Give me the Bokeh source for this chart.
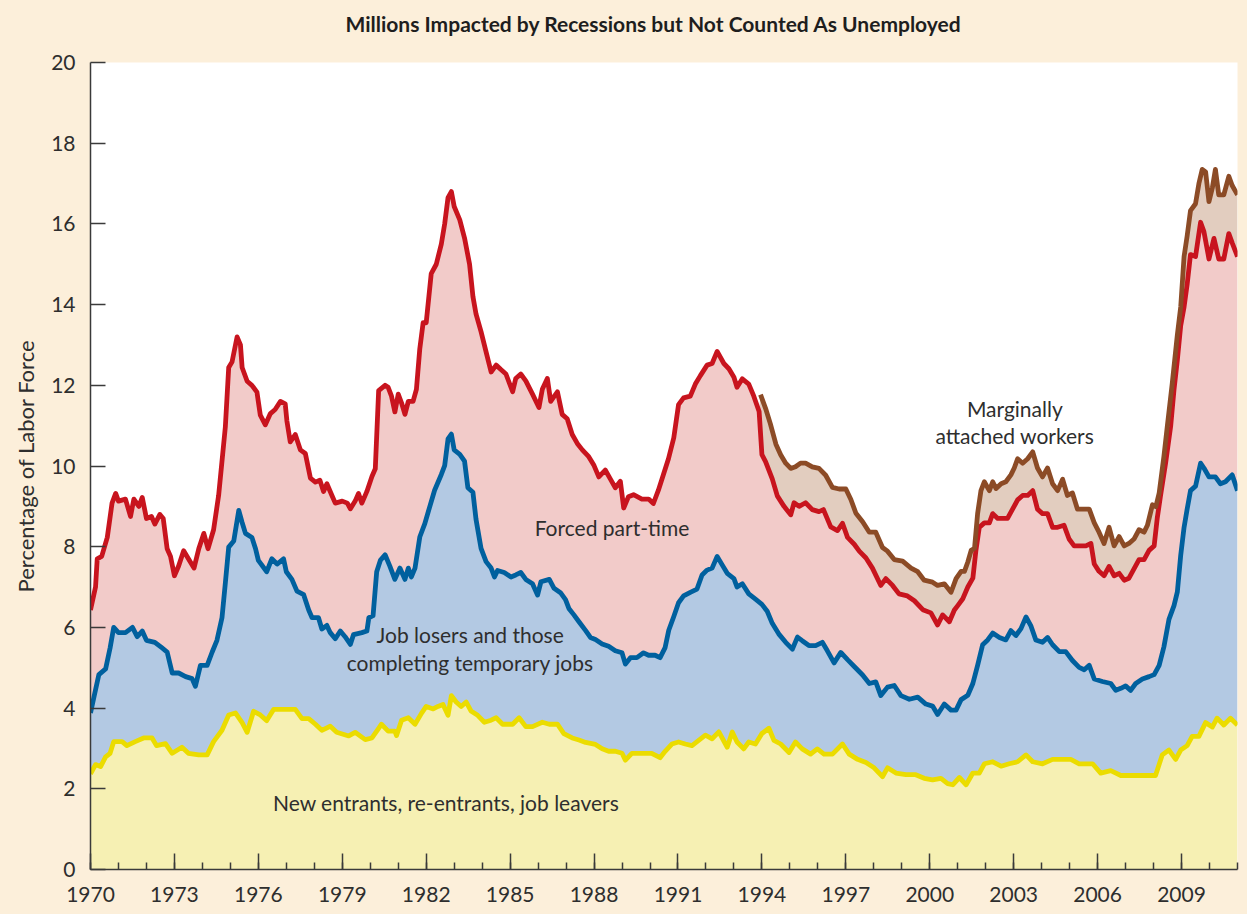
from bokeh.plotting import figure
from bokeh.models import Range1d, FixedTicker
from bokeh.embed import file_html
from bokeh.resources import INLINE
from bokeh.core.properties import value

# ---------------- data (percent of labor force, cumulative stacked levels) ----------------
yellow_year = [1970.0, 1970.18, 1970.36, 1970.54, 1970.7, 1970.83, 1971.13, 1971.3, 1971.6, 1971.9,
               1972.2, 1972.36, 1972.68, 1972.92, 1973.27, 1973.5, 1973.87, 1974.17, 1974.4, 1974.7,
               1974.94, 1975.18, 1975.42, 1975.6, 1975.83, 1976.07, 1976.3, 1976.55, 1976.96, 1977.32,
               1977.56, 1977.8, 1978.04, 1978.27, 1978.57, 1978.8, 1979.23, 1979.46, 1979.82, 1980.06,
               1980.3, 1980.4, 1980.64, 1980.88, 1980.94, 1981.12, 1981.36, 1981.6, 1981.83, 1982.0,
               1982.25, 1982.42, 1982.6, 1982.78, 1982.9, 1983.07, 1983.25, 1983.43, 1983.6, 1983.84,
               1984.08, 1984.32, 1984.5, 1984.73, 1985.09, 1985.32, 1985.56, 1985.8, 1986.15, 1986.4,
               1986.69, 1986.92, 1987.22, 1987.46, 1987.7, 1988.05, 1988.29, 1988.52, 1988.76, 1989.0,
               1989.12, 1989.35, 1989.71, 1990.06, 1990.36, 1990.54, 1990.78, 1991.02, 1991.26, 1991.5,
               1991.74, 1991.98, 1992.22, 1992.46, 1992.76, 1992.94, 1993.11, 1993.35, 1993.53, 1993.77,
               1994.0, 1994.25, 1994.43, 1994.67, 1994.97, 1995.2, 1995.44, 1995.74, 1995.98, 1996.22,
               1996.52, 1996.88, 1997.12, 1997.42, 1997.72, 1998.01, 1998.31, 1998.49, 1998.79, 1999.15,
               1999.5, 1999.8, 2000.1, 2000.4, 2000.64, 2000.82, 2001.06, 2001.3, 2001.54, 2001.77,
               2001.95, 2002.25, 2002.55, 2002.84, 2003.14, 2003.44, 2003.68, 2004.03, 2004.39, 2004.69,
               2005.04, 2005.34, 2005.82, 2006.11, 2006.47, 2006.83, 2007.24, 2007.72, 2008.07, 2008.31,
               2008.55, 2008.79, 2008.97, 2009.2, 2009.38, 2009.62, 2009.86, 2010.1, 2010.27, 2010.51,
               2010.75, 2011.0]
yellow_val = [2.37, 2.6, 2.55, 2.79, 2.88, 3.17, 3.17, 3.07, 3.17, 3.26,
              3.26, 3.07, 3.12, 2.88, 3.03, 2.88, 2.84, 2.84, 3.17, 3.45,
              3.83, 3.88, 3.64, 3.4, 3.92, 3.83, 3.69, 3.97, 3.97, 3.97,
              3.74, 3.74, 3.6, 3.45, 3.55, 3.4, 3.31, 3.4, 3.22, 3.26,
              3.5, 3.6, 3.43, 3.43, 3.32, 3.7, 3.76, 3.6, 3.87, 4.04,
              3.98, 4.04, 4.09, 3.82, 4.31, 4.15, 4.04, 4.15, 3.93, 3.82,
              3.65, 3.7, 3.76, 3.6, 3.6, 3.76, 3.54, 3.54, 3.65, 3.6,
              3.6, 3.37, 3.26, 3.21, 3.15, 3.1, 2.99, 2.93, 2.93, 2.88,
              2.71, 2.88, 2.88, 2.88, 2.77, 2.93, 3.11, 3.16, 3.11, 3.07,
              3.2, 3.33, 3.24, 3.41, 3.03, 3.41, 3.16, 2.99, 3.16, 3.11,
              3.37, 3.5, 3.2, 3.11, 2.9, 3.16, 2.99, 2.86, 2.99, 2.86,
              2.86, 3.11, 2.86, 2.73, 2.65, 2.52, 2.3, 2.52, 2.39, 2.35,
              2.35, 2.26, 2.22, 2.26, 2.13, 2.1, 2.28, 2.1, 2.39, 2.39,
              2.62, 2.67, 2.56, 2.62, 2.67, 2.84, 2.67, 2.62, 2.73, 2.73,
              2.73, 2.62, 2.62, 2.39, 2.45, 2.33, 2.33, 2.33, 2.33, 2.84,
              2.96, 2.73, 2.96, 3.07, 3.3, 3.3, 3.64, 3.53, 3.75, 3.58,
              3.75, 3.58]

blue_year = [1970.0, 1970.12, 1970.3, 1970.54, 1970.7, 1970.83, 1971.0, 1971.25, 1971.5, 1971.67,
             1971.85, 1972.0, 1972.3, 1972.56, 1972.74, 1972.92, 1973.15, 1973.4, 1973.63, 1973.75,
             1973.93, 1974.17, 1974.35, 1974.52, 1974.7, 1974.82, 1974.94, 1975.12, 1975.3, 1975.42,
             1975.54, 1975.77, 1975.9, 1976.0, 1976.3, 1976.48, 1976.67, 1976.9, 1977.0, 1977.2,
             1977.38, 1977.62, 1977.8, 1977.92, 1978.15, 1978.27, 1978.45, 1978.57, 1978.75, 1978.93,
             1979.1, 1979.29, 1979.4, 1979.7, 1979.88, 1979.95, 1980.1, 1980.23, 1980.36, 1980.53,
             1980.7, 1980.88, 1981.06, 1981.24, 1981.36, 1981.47, 1981.6, 1981.77, 1981.95, 1982.13,
             1982.3, 1982.54, 1982.66, 1982.78, 1982.9, 1983.0, 1983.2, 1983.37, 1983.49, 1983.67,
             1983.78, 1983.96, 1984.14, 1984.32, 1984.44, 1984.55, 1984.79, 1985.03, 1985.2, 1985.38,
             1985.56, 1985.8, 1985.98, 1986.1, 1986.4, 1986.57, 1986.8, 1986.98, 1987.1, 1987.28,
             1987.46, 1987.7, 1987.87, 1988.05, 1988.29, 1988.52, 1988.76, 1989.0, 1989.12, 1989.3,
             1989.53, 1989.77, 1989.95, 1990.18, 1990.36, 1990.54, 1990.67, 1990.85, 1991.02, 1991.2,
             1991.44, 1991.68, 1991.86, 1992.04, 1992.22, 1992.4, 1992.58, 1992.76, 1993.0, 1993.11,
             1993.3, 1993.53, 1993.77, 1994.0, 1994.19, 1994.37, 1994.6, 1994.85, 1995.09, 1995.27,
             1995.44, 1995.68, 1995.92, 1996.16, 1996.34, 1996.58, 1996.82, 1997.06, 1997.3, 1997.6,
             1997.84, 1998.07, 1998.25, 1998.49, 1998.73, 1998.97, 1999.27, 1999.57, 1999.86, 2000.1,
             2000.28, 2000.52, 2000.76, 2000.94, 2001.12, 2001.36, 2001.54, 2001.71, 2001.89, 2002.07,
             2002.25, 2002.49, 2002.72, 2002.9, 2003.08, 2003.26, 2003.44, 2003.62, 2003.79, 2004.03,
             2004.21, 2004.39, 2004.63, 2004.86, 2005.1, 2005.34, 2005.52, 2005.7, 2005.88, 2006.17,
             2006.47, 2006.65, 2006.83, 2007.0, 2007.18, 2007.36, 2007.6, 2007.84, 2008.02, 2008.2,
             2008.37, 2008.55, 2008.73, 2008.85, 2008.97, 2009.09, 2009.2, 2009.32, 2009.5, 2009.68,
             2009.8, 2009.98, 2010.21, 2010.39, 2010.57, 2010.81, 2011.0]
blue_val = [3.88, 4.26, 4.83, 4.97, 5.49, 6.0, 5.87, 5.87, 6.0, 5.77,
            5.91, 5.68, 5.63, 5.49, 5.39, 4.87, 4.87, 4.78, 4.73, 4.54,
            5.06, 5.06, 5.39, 5.68, 6.24, 7.1, 7.99, 8.14, 8.9, 8.6,
            8.33, 8.23, 7.95, 7.66, 7.38, 7.7, 7.57, 7.7, 7.38, 7.19,
            6.9, 6.81, 6.43, 6.24, 6.24, 5.96, 6.05, 5.87, 5.72, 5.91,
            5.77, 5.58, 5.82, 5.87, 5.91, 6.24, 6.29, 7.38, 7.66, 7.8,
            7.52, 7.19, 7.47, 7.19, 7.47, 7.25, 7.47, 8.24, 8.57, 9.0,
            9.4, 9.79, 10.01, 10.67, 10.79, 10.4, 10.29, 10.12, 9.46, 9.35,
            8.68, 7.96, 7.63, 7.47, 7.25, 7.41, 7.36, 7.25, 7.3, 7.36,
            7.19, 7.08, 6.8, 7.13, 7.19, 6.97, 6.86, 6.69, 6.47, 6.31,
            6.14, 5.92, 5.75, 5.7, 5.59, 5.53, 5.42, 5.37, 5.09, 5.25,
            5.25, 5.37, 5.31, 5.31, 5.25, 5.5, 5.93, 6.27, 6.61, 6.78,
            6.87, 6.95, 7.3, 7.42, 7.47, 7.76, 7.55, 7.34, 7.21, 7.0,
            7.08, 6.83, 6.7, 6.57, 6.4, 6.1, 5.84, 5.63, 5.46, 5.76,
            5.67, 5.55, 5.55, 5.63, 5.42, 5.12, 5.38, 5.2, 5.03, 4.82,
            4.61, 4.65, 4.31, 4.52, 4.56, 4.31, 4.22, 4.27, 4.1, 4.05,
            3.84, 4.1, 3.95, 3.95, 4.21, 4.32, 4.61, 5.06, 5.57, 5.69,
            5.86, 5.75, 5.69, 5.92, 5.8, 5.97, 6.26, 6.03, 5.69, 5.63,
            5.75, 5.57, 5.4, 5.4, 5.18, 5.01, 4.95, 5.06, 4.72, 4.66,
            4.61, 4.44, 4.49, 4.55, 4.44, 4.61, 4.72, 4.78, 4.83, 5.06,
            5.52, 6.2, 6.54, 6.88, 7.79, 8.48, 8.93, 9.39, 9.5, 10.07,
            9.95, 9.73, 9.73, 9.56, 9.61, 9.78, 9.39]

red_year = [1970.0, 1970.18, 1970.24, 1970.4, 1970.6, 1970.77, 1970.9, 1971.0, 1971.25, 1971.43,
            1971.55, 1971.73, 1971.85, 1972.0, 1972.18, 1972.3, 1972.48, 1972.6, 1972.74, 1972.86,
            1973.0, 1973.15, 1973.33, 1973.5, 1973.7, 1973.87, 1974.05, 1974.2, 1974.4, 1974.58,
            1974.7, 1974.82, 1974.94, 1975.06, 1975.24, 1975.36, 1975.42, 1975.6, 1975.77, 1975.95,
            1976.07, 1976.25, 1976.43, 1976.6, 1976.79, 1976.96, 1977.02, 1977.14, 1977.32, 1977.5,
            1977.68, 1977.86, 1978.04, 1978.2, 1978.33, 1978.45, 1978.63, 1978.75, 1979.0, 1979.18,
            1979.29, 1979.46, 1979.58, 1979.7, 1979.88, 1980.06, 1980.18, 1980.3, 1980.53, 1980.64,
            1980.76, 1980.88, 1981.0, 1981.12, 1981.24, 1981.36, 1981.53, 1981.65, 1981.77, 1981.89,
            1982.0, 1982.18, 1982.36, 1982.54, 1982.66, 1982.78, 1982.9, 1983.0, 1983.2, 1983.37,
            1983.55, 1983.67, 1983.78, 1983.96, 1984.14, 1984.32, 1984.5, 1984.67, 1984.85, 1985.09,
            1985.2, 1985.38, 1985.56, 1985.8, 1986.03, 1986.15, 1986.33, 1986.45, 1986.69, 1986.86,
            1987.04, 1987.22, 1987.4, 1987.58, 1987.81, 1988.0, 1988.17, 1988.4, 1988.58, 1988.76,
            1988.94, 1989.06, 1989.23, 1989.41, 1989.71, 1989.95, 1990.12, 1990.3, 1990.48, 1990.66,
            1990.85, 1991.02, 1991.2, 1991.44, 1991.62, 1991.8, 1992.04, 1992.22, 1992.4, 1992.64,
            1992.82, 1993.0, 1993.11, 1993.3, 1993.53, 1993.71, 1993.9, 1994.0, 1994.13, 1994.37,
            1994.55, 1994.79, 1995.03, 1995.15, 1995.33, 1995.56, 1995.8, 1996.04, 1996.2, 1996.46,
            1996.7, 1996.88, 1997.06, 1997.3, 1997.48, 1997.72, 1997.95, 1998.25, 1998.43, 1998.67,
            1998.9, 1999.2, 1999.45, 1999.75, 2000.04, 2000.28, 2000.46, 2000.7, 2000.88, 2001.0,
            2001.18, 2001.36, 2001.54, 2001.65, 2001.77, 2001.95, 2002.13, 2002.25, 2002.43, 2002.6,
            2002.78, 2002.96, 2003.14, 2003.32, 2003.5, 2003.68, 2003.85, 2004.03, 2004.21, 2004.39,
            2004.57, 2004.8, 2004.98, 2005.16, 2005.34, 2005.58, 2005.76, 2005.88, 2006.05, 2006.23,
            2006.41, 2006.59, 2006.77, 2006.95, 2007.12, 2007.3, 2007.48, 2007.66, 2007.84, 2008.02,
            2008.13, 2008.25, 2008.43, 2008.61, 2008.73, 2008.85, 2008.97, 2009.09, 2009.2, 2009.32,
            2009.5, 2009.68, 2009.8, 2009.98, 2010.16, 2010.33, 2010.51, 2010.69, 2010.81, 2011.0]
red_val = [6.43, 7.0, 7.7, 7.76, 8.23, 9.08, 9.32, 9.13, 9.18, 8.75,
           9.18, 9.0, 9.22, 8.7, 8.75, 8.56, 8.8, 8.7, 7.95, 7.76,
           7.28, 7.52, 7.9, 7.7, 7.47, 7.95, 8.33, 7.95, 8.42, 9.27,
           10.12, 10.97, 12.44, 12.58, 13.2, 13.0, 12.44, 12.1, 12.0, 11.83,
           11.26, 11.02, 11.3, 11.4, 11.6, 11.54, 11.12, 10.6, 10.78, 10.4,
           10.31, 9.7, 9.6, 9.65, 9.37, 9.56, 9.27, 9.08, 9.13, 9.08,
           8.94, 9.13, 9.32, 9.08, 9.37, 9.74, 9.93, 11.87, 12.0, 11.95,
           11.73, 11.34, 11.78, 11.56, 11.28, 11.6, 11.6, 11.9, 12.9, 13.55,
           13.55, 14.77, 15.0, 15.5, 16.0, 16.65, 16.8, 16.43, 16.1, 15.65,
           15.0, 14.2, 13.77, 13.33, 12.83, 12.33, 12.5, 12.39, 12.28, 11.84,
           12.17, 12.28, 12.11, 11.78, 11.45, 11.9, 12.17, 11.6, 11.84, 11.28,
           11.17, 10.78, 10.56, 10.4, 10.23, 10.01, 9.73, 9.9, 9.68, 9.46,
           9.62, 8.96, 9.24, 9.29, 9.18, 9.18, 9.07, 9.4, 9.79, 10.18,
           10.7, 11.52, 11.69, 11.73, 12.03, 12.24, 12.5, 12.54, 12.84, 12.54,
           12.41, 12.2, 11.95, 12.16, 12.03, 11.73, 11.35, 10.28, 10.11, 9.68,
           9.26, 9.0, 8.79, 9.09, 9.0, 9.09, 8.92, 8.87, 8.92, 8.49,
           8.4, 8.58, 8.23, 8.06, 7.89, 7.72, 7.47, 7.04, 7.21, 7.04,
           6.83, 6.78, 6.66, 6.44, 6.36, 6.06, 6.31, 6.14, 6.43, 6.54,
           6.71, 7.0, 7.22, 7.91, 8.48, 8.59, 8.59, 8.82, 8.7, 8.7,
           8.7, 8.93, 9.16, 9.27, 9.27, 9.39, 8.93, 8.82, 8.82, 8.48,
           8.48, 8.53, 8.19, 8.02, 8.02, 8.02, 8.08, 7.57, 7.39, 7.28,
           7.51, 7.28, 7.34, 7.17, 7.22, 7.45, 7.68, 7.68, 7.91, 8.02,
           8.7, 9.27, 10.07, 10.98, 11.89, 12.63, 13.48, 13.94, 14.5, 15.24,
           15.19, 16.04, 15.81, 15.13, 15.64, 15.13, 15.13, 15.76, 15.53, 15.19]

brown_year = [1993.95, 1994.13, 1994.3, 1994.5, 1994.67, 1994.85, 1995.03, 1995.2, 1995.38, 1995.56,
              1995.8, 1996.04, 1996.28, 1996.52, 1996.76, 1997.0, 1997.18, 1997.36, 1997.6, 1997.84,
              1998.07, 1998.31, 1998.49, 1998.73, 1999.03, 1999.33, 1999.57, 1999.8, 2000.1, 2000.28,
              2000.52, 2000.76, 2000.94, 2001.12, 2001.24, 2001.36, 2001.48, 2001.6, 2001.71, 2001.83,
              2001.95, 2002.13, 2002.25, 2002.37, 2002.55, 2002.72, 2002.9, 2003.02, 2003.14, 2003.32,
              2003.5, 2003.68, 2003.85, 2004.03, 2004.21, 2004.39, 2004.57, 2004.75, 2004.92, 2005.1,
              2005.28, 2005.46, 2005.7, 2005.88, 2006.05, 2006.23, 2006.41, 2006.59, 2006.77, 2006.95,
              2007.12, 2007.3, 2007.48, 2007.66, 2007.78, 2007.96, 2008.08, 2008.2, 2008.37, 2008.49,
              2008.67, 2008.85, 2008.97, 2009.09, 2009.2, 2009.32, 2009.5, 2009.62, 2009.74, 2009.86,
              2009.98, 2010.1, 2010.21, 2010.33, 2010.51, 2010.69, 2010.81, 2011.0]
brown_val = [11.77, 11.43, 11.05, 10.54, 10.28, 10.07, 9.94, 9.98, 10.07, 10.07,
             9.98, 9.94, 9.77, 9.47, 9.43, 9.43, 9.17, 8.83, 8.62, 8.36,
             8.36, 7.98, 7.89, 7.68, 7.64, 7.47, 7.38, 7.17, 7.12, 7.04,
             7.08, 6.87, 7.21, 7.39, 7.39, 7.62, 7.91, 7.96, 8.82, 9.39,
             9.61, 9.39, 9.61, 9.44, 9.56, 9.61, 9.78, 9.95, 10.18, 10.07,
             10.18, 10.35, 9.95, 9.73, 9.95, 9.56, 9.39, 9.67, 9.27, 9.33,
             8.93, 8.93, 8.93, 8.59, 8.36, 8.08, 8.48, 8.02, 8.25, 8.02,
             8.08, 8.19, 8.42, 8.36, 8.53, 9.04, 8.99, 9.33, 10.24, 10.98,
             12.06, 13.25, 13.94, 15.19, 15.7, 16.33, 16.5, 17.0, 17.35, 17.29,
             16.55, 16.89, 17.35, 16.72, 16.72, 17.18, 16.95, 16.72]

x_ticks = list(range(1970, 2010, 3))
y_ticks = list(range(0, 21, 2))

labels_text = ["Marginally", "attached workers", "Forced part-time",
               "Job losers and those", "completing temporary jobs",
               "New entrants, re-entrants, job leavers"]
labels_x = [2003.04, 2003.04, 1988.64, 1983.57, 1983.57, 1982.71]
labels_y = [11.43, 10.76, 8.48, 5.82, 5.13, 1.66]

TITLE = "Millions Impacted by Recessions but Not Counted As Unemployed"

# ---------------- styling ----------------
CREAM = "#fcefda"
TXT = "#2e2e2e"
FONT = "Lato"

p = figure(width=1247, height=914, output_backend="svg", toolbar_location=None,
           x_range=Range1d(1970, 2011), y_range=Range1d(0, 20),
           min_border_left=90, min_border_right=10, min_border_top=62, min_border_bottom=45)
p.border_fill_color = CREAM
p.background_fill_color = "white"
p.outline_line_color = None
p.xgrid.visible = False
p.ygrid.visible = False

# a blank second line reserves space below the title so that it sits higher above the frame
p.title.text = TITLE + "\n "
p.title.align = "left"
p.title.offset = 255
p.title.text_font = FONT
p.title.text_font_size = "21px"
p.title.text_font_style = "bold"
p.title.text_color = "#1e1e1e"
p.title.vertical_align = "top"
p.title.standoff = 0


def band(ux, uy, lx, ly):
    return list(ux) + list(lx[::-1]), list(uy) + list(ly[::-1])


# fills
xs, ys = band(yellow_year, yellow_val, [yellow_year[0], yellow_year[-1]], [0, 0])
p.patch(xs, ys, fill_color="#f6f0b3", line_color=None)
xs, ys = band(blue_year, blue_val, yellow_year, yellow_val)
p.patch(xs, ys, fill_color="#b3c9e3", line_color=None)
xs, ys = band(red_year, red_val, blue_year, blue_val)
p.patch(xs, ys, fill_color="#f2cbc9", line_color=None)
rx = [x for x in red_year if x >= 1993.9]
ry = [v for x, v in zip(red_year, red_val) if x >= 1993.9]
xs, ys = band(brown_year, brown_val, rx, ry)
p.patch(xs, ys, fill_color="#e2cdbf", line_color=None)

# lines
LW = 4.8
p.line(yellow_year, yellow_val, line_color="#ebdc00", line_width=LW, line_join="round")
p.line(blue_year, blue_val, line_color="#00609e", line_width=LW, line_join="round")
p.line(red_year, red_val, line_color="#c8141e", line_width=LW, line_join="round")
p.line(brown_year, brown_val, line_color="#8c4b26", line_width=LW, line_join="round")

# in-plot labels
p.text(labels_x, labels_y, text=labels_text, text_align="center", text_baseline="middle",
       text_font=value(FONT), text_font_size="21px", text_color=TXT)

# axes
xa = p.xaxis[0]
xa.ticker = FixedTicker(ticks=x_ticks, minor_ticks=list(range(1970, 2012)))
xa.major_tick_in = 16
xa.major_tick_out = 0
xa.minor_tick_in = 7
xa.minor_tick_out = 0
xa.axis_line_color = "#3a3a3a"
xa.axis_line_width = 1.5
xa.major_tick_line_color = "#3a3a3a"
xa.major_tick_line_width = 1.5
xa.minor_tick_line_color = "#3a3a3a"
xa.minor_tick_line_width = 1.5
xa.major_label_text_font = FONT
xa.major_label_text_font_size = "21px"
xa.major_label_text_color = TXT
xa.major_label_standoff = 17

ya = p.yaxis[0]
ya.ticker = FixedTicker(ticks=y_ticks, minor_ticks=[])
ya.major_tick_in = 15
ya.major_tick_out = 0
ya.minor_tick_in = 0
ya.minor_tick_out = 0
ya.axis_line_color = "#3a3a3a"
ya.axis_line_width = 1.5
ya.major_tick_line_color = "#3a3a3a"
ya.major_tick_line_width = 1.5
ya.major_label_text_font = FONT
ya.major_label_text_font_size = "21px"
ya.major_label_text_color = TXT
ya.major_label_standoff = 15
ya.axis_label = "Percentage of Labor Force"
ya.axis_label_text_font = FONT
ya.axis_label_text_font_size = "22px"
ya.axis_label_text_font_style = "normal"
ya.axis_label_text_color = TXT
ya.axis_label_standoff = 9

html = file_html(p, INLINE)
html = html.replace("</head>", "<style>html,body{background:%s;}</style></head>" % CREAM, 1)
open("out.html", "w").write(html)
